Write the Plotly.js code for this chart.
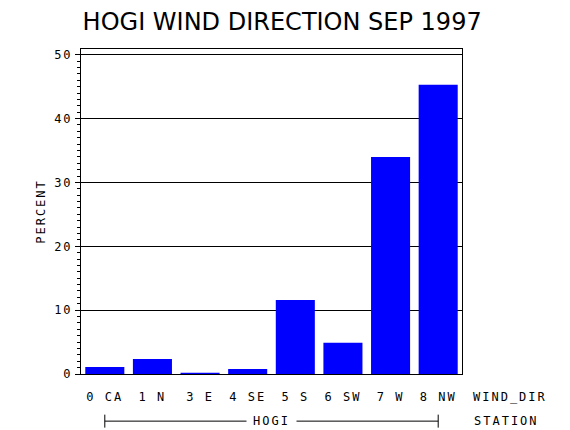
<!DOCTYPE html>
<html>
<head>
<meta charset="utf-8">
<script src="https://cdn.plot.ly/plotly-3.0.1.min.js"></script>
<style>
  body { margin: 0; background: #fff; }
  #plot { width: 570px; height: 430px; }
  /* the original plotter font is widely spaced */
  #plot .xtick text, #plot .ytick text, #plot .ytitle, #plot .annotation-text {
    letter-spacing: 2px;
  }
</style>
</head>
<body>
<div id="plot"></div>
<script>
// wind direction classes and percent of hours
const dirCodes = [0, 1, 3, 4, 5, 6, 7, 8];
const dirLabels = ["0 CA", "1 N", "3 E", "4 SE", "5 S", "6 SW", "7 W", "8 NW"];
const percent = [1.1, 2.35, 0.2, 0.8, 11.6, 4.9, 34.0, 45.3];
const station = "HOGI";

const monoFont = { family: "DejaVu Sans Mono, monospace", size: 12, color: "#000" };
const idx = dirLabels.map((d, i) => i);

const trace = {
  x: idx,
  y: percent,
  type: "bar",
  marker: { color: "#0000ff" },
  hoverinfo: "skip"
};

const layout = {
  width: 570,
  height: 430,
  margin: { l: 81, r: 108, t: 49, b: 56 },
  paper_bgcolor: "#fff",
  plot_bgcolor: "#fff",
  showlegend: false,
  bargap: 0.18,
  title: {
    text: station + " WIND DIRECTION SEP " + 1997,
    font: { family: "DejaVu Sans, sans-serif", size: 24, color: "#000" },
    x: 0.495,
    xref: "container",
    y: 0.95,
    yanchor: "middle"
  },
  xaxis: {
    range: [-0.5, 7.5],
    tickmode: "array",
    tickvals: idx,
    ticktext: dirLabels,
    ticks: "outside",
    ticklen: 12,
    tickcolor: "rgba(0,0,0,0)",
    tickfont: monoFont,
    showgrid: false,
    zeroline: false,
    showline: true,
    linecolor: "#000",
    linewidth: 1,
    mirror: true
  },
  yaxis: {
    range: [0, 50.9],
    dtick: 10,
    ticks: "outside",
    ticklen: 5,
    tickcolor: "#000",
    tickfont: monoFont,
    showgrid: true,
    gridcolor: "#000",
    gridwidth: 1,
    zeroline: false,
    showline: true,
    linecolor: "#000",
    linewidth: 1,
    mirror: true,
    minor: { dtick: 1, ticks: "outside", ticklen: 3, tickcolor: "#000", showgrid: false },
    title: { text: "PERCENT", font: monoFont, standoff: 9 }
  },
  annotations: [
    { text: "WIND_DIR", xref: "paper", yref: "paper", x: 1.045, y: -0.07,
      xanchor: "left", yanchor: "middle", showarrow: false, font: monoFont },
    { text: "STATION", xref: "paper", yref: "paper", x: 1.045, y: -0.145,
      xanchor: "left", yanchor: "middle", showarrow: false, font: monoFont },
    { text: station, xref: "x", yref: "paper", x: 3.5, y: -0.145,
      xanchor: "center", yanchor: "middle", showarrow: false, font: monoFont,
      bgcolor: "#fff", borderpad: 10 }
  ],
  shapes: [
    // station bracket under the categories
    { type: "line", xref: "x", yref: "paper", x0: 0, x1: 7, y0: -0.145, y1: -0.145,
      line: { color: "#000", width: 1 } },
    { type: "line", xref: "x", yref: "paper", x0: 0, x1: 0, y0: -0.125, y1: -0.165,
      line: { color: "#000", width: 1 } },
    { type: "line", xref: "x", yref: "paper", x0: 7, x1: 7, y0: -0.125, y1: -0.165,
      line: { color: "#000", width: 1 } }
  ]
};

Plotly.newPlot("plot", [trace], layout, { displayModeBar: false, staticPlot: true });
</script>
</body>
</html>
